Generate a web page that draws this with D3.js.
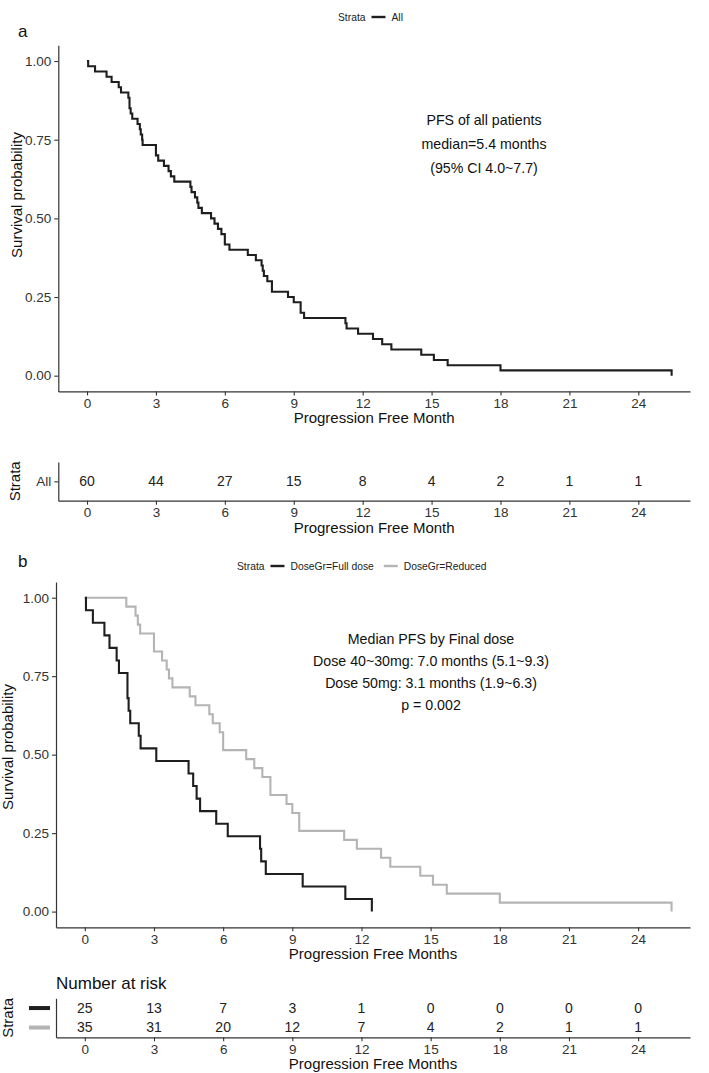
<!DOCTYPE html>
<html><head><meta charset="utf-8">
<script src="https://cdn.jsdelivr.net/npm/d3@7"></script>
<style>
body{margin:0;background:#fff}
svg{display:block}
text{font-family:"Liberation Sans", Arial, Helvetica, sans-serif}
.tick text{font-family:"Liberation Sans Narrow","Arial Narrow","Liberation Sans",sans-serif}
</style>
</head><body>
<svg id="c" width="709" height="1073"></svg>
<script>
// ---------------- data ----------------
const monthTicks = [0, 3, 6, 9, 12, 15, 18, 21, 24];
const survTicks = [0, 0.25, 0.5, 0.75, 1];
// event (progression) times in months
const fullDoseTimes = [0.05, 0.35, 0.85, 1.07, 1.38, 1.48, 1.85, 1.85, 1.9, 1.97, 2.34, 2.42, 3.1,
  4.5, 4.7, 4.85, 5.0, 5.7, 6.2, 7.6, 7.65, 7.85, 9.45, 11.3, 12.45];
const reducedTimes = [1.8, 2.2, 2.3, 2.4, 3.0, 3.0, 3.35, 3.55, 3.65, 3.8, 4.55, 4.8, 5.4, 5.55, 5.85,
  6.0, 6.0, 7.0, 7.35, 7.7, 8.05, 8.05, 8.75, 9.0, 9.3, 9.3, 11.25, 11.8, 12.85, 13.25, 14.55,
  15.1, 15.7, 18.0, 25.45];
const allRisk = [60, 44, 27, 15, 8, 4, 2, 1, 1];
const fullRisk = [25, 13, 7, 3, 1, 0, 0, 0, 0];
const reducedRisk = [35, 31, 20, 12, 7, 4, 2, 1, 1];
const annotA = ["PFS of all patients", "median=5.4 months", "(95% CI 4.0~7.7)"];
const annotB = ["Median PFS by Final dose", "Dose 40~30mg: 7.0 months (5.1~9.3)",
  "Dose 50mg: 3.1 months (1.9~6.3)", "p = 0.002"];
const strataA = ["All"];
const strataB = ["DoseGr=Full dose", "DoseGr=Reduced"];
const colors = {full: "#1e1e1e", reduced: "#b4b4b4", all: "#1e1e1e"};

// ---------------- helpers ----------------
const svg = d3.select("#c");
svg.append("rect").attr("width", 709).attr("height", 1073).attr("fill", "#fff");

function km(times, n) {
  const s = times.slice().sort((a, b) => a - b);
  const pts = [{t: 0, s: 1}];
  let rem = n, i = 0;
  while (i < s.length) {
    const t = s[i]; let d = 0;
    while (i < s.length && s[i] === t) { d++; i++; }
    rem -= d;
    pts.push({t: t, s: rem / n});
  }
  return pts;
}

function styleAxis(g, fs) {
  g.select(".domain").attr("stroke", "#333").attr("stroke-width", 1.2);
  g.selectAll(".tick line").attr("stroke", "#333").attr("stroke-width", 1.1);
  g.selectAll(".tick text").attr("fill", "#333").style("font-size", fs + "px");
}

function panel(o) {
  const x = d3.scaleLinear().domain([-1.25, 26.25]).range([o.left, 690]);
  const y = d3.scaleLinear().domain([-0.05, 1.05]).range([o.bottom, o.top]);
  const gx = svg.append("g").attr("transform", `translate(0,${o.bottom})`)
    .call(d3.axisBottom(x).tickValues(monthTicks).tickSize(4).tickSizeOuter(0).tickPadding(3));
  styleAxis(gx, 13.5);
  const gy = svg.append("g").attr("transform", `translate(${o.left},0)`)
    .call(d3.axisLeft(y).tickValues(survTicks).tickFormat(d3.format(".2f")).tickSize(4).tickSizeOuter(0).tickPadding(3));
  styleAxis(gy, 13.5);
  const line = d3.line().x(d => x(d.t)).y(d => y(d.s)).curve(d3.curveStepAfter);
  o.curves.forEach(c => {
    svg.append("path").datum(c.pts).attr("d", line).attr("fill", "none")
      .attr("stroke", c.color).attr("stroke-width", 2.1).attr("stroke-linejoin", "miter");
  });
  svg.append("text").attr("x", (o.left + 690) / 2).attr("y", o.bottom + 32).attr("text-anchor", "middle")
    .style("font-size", "15px").attr("fill", "#111").text(o.xTitle);
  svg.append("text").attr("transform", `translate(${o.yTitleX},${o.yTitleY}) rotate(-90)`)
    .attr("text-anchor", "middle").attr("dy", "0.35em").style("font-size", "15px").attr("fill", "#111")
    .text("Survival probability");
  const ann = svg.append("text").attr("text-anchor", "middle").style("font-size", o.annSize + "px").attr("fill", "#111");
  o.annot.forEach((s, i) => ann.append("tspan").attr("x", o.annX).attr("y", o.annY + i * o.annStep).text(s));
  return x;
}

function riskTable(o) {
  const x = d3.scaleLinear().domain([-1.25, 26.25]).range([o.left, 690]);
  const y = d3.scalePoint().domain(o.rows.map(r => r.key)).range([o.top, o.bottom]).padding(0.5);
  const gx = svg.append("g").attr("transform", `translate(0,${o.bottom})`)
    .call(d3.axisBottom(x).tickValues(monthTicks).tickSize(4).tickSizeOuter(0).tickPadding(3));
  styleAxis(gx, 13.5);
  const gy = svg.append("g").attr("transform", `translate(${o.left},0)`)
    .call(d3.axisLeft(y).tickSize(o.showTicks ? 4 : 0).tickSizeOuter(0).tickPadding(3)
      .tickFormat(o.tickLabels ? (d => d) : () => ""));
  styleAxis(gy, 13.5);
  o.rows.forEach(r => {
    svg.append("g").selectAll("text").data(r.values).join("text")
      .attr("x", (d, i) => x(monthTicks[i])).attr("y", y(r.key)).attr("dy", "0.35em")
      .attr("text-anchor", "middle").style("font-size", "14px").attr("fill", "#222").text(d => d);
    if (r.keyColor) {
      svg.append("line").attr("x1", 29).attr("x2", 50).attr("y1", y(r.key)).attr("y2", y(r.key))
        .attr("stroke", r.keyColor).attr("stroke-width", 4);
    }
  });
  svg.append("text").attr("x", (o.left + 690) / 2).attr("y", o.bottom + 32).attr("text-anchor", "middle")
    .style("font-size", "15px").attr("fill", "#111").text(o.xTitle);
  svg.append("text").attr("transform", `translate(${o.strataX},${(o.top + o.bottom) / 2}) rotate(-90)`)
    .attr("text-anchor", "middle").attr("dy", "0.35em").style("font-size", "15px").attr("fill", "#111")
    .text("Strata");
}

function legend(items, cy, startX) {
  const g = svg.append("g");
  let cx = startX;
  const t0 = g.append("text").attr("x", cx).attr("y", cy).attr("dy", "0.35em").style("font-size", "10.3px")
    .attr("fill", "#222").text("Strata");
  cx += t0.node().getComputedTextLength() + 6;
  items.forEach(it => {
    g.append("line").attr("x1", cx).attr("x2", cx + 14).attr("y1", cy).attr("y2", cy)
      .attr("stroke", it.color).attr("stroke-width", 2.4);
    cx += 20;
    const t = g.append("text").attr("x", cx).attr("y", cy).attr("dy", "0.35em").style("font-size", "10.3px")
      .attr("fill", "#222").text(it.label);
    cx += t.node().getComputedTextLength() + 10;
  });
}

// ---------------- panel a ----------------
svg.append("text").attr("x", 18).attr("y", 37).style("font-size", "17px").attr("fill", "#111").text("a");
legend([{label: strataA[0], color: colors.all}], 17, 338);
panel({
  left: 58.3, top: 45.3, bottom: 391.4, yTitleX: 16.7, yTitleY: 195,
  xTitle: "Progression Free Month",
  curves: [{pts: km(fullDoseTimes.concat(reducedTimes), fullDoseTimes.length + reducedTimes.length), color: colors.all}],
  annot: annotA, annX: 484, annY: 125, annStep: 24, annSize: 14.2
});
riskTable({
  left: 58.3, top: 462, bottom: 500.7, strataX: 15, xTitle: "Progression Free Month",
  rows: [{key: strataA[0], values: allRisk}], tickLabels: true, showTicks: true
});

// ---------------- panel b ----------------
svg.append("text").attr("x", 18).attr("y", 567).style("font-size", "17px").attr("fill", "#111").text("b");
legend([{label: strataB[0], color: colors.full}, {label: strataB[1], color: colors.reduced}], 566, 237);
panel({
  left: 56, top: 582, bottom: 927.3, yTitleX: 7.5, yTitleY: 747,
  xTitle: "Progression Free Months",
  curves: [
    {pts: km(reducedTimes, reducedTimes.length), color: colors.reduced},
    {pts: km(fullDoseTimes, fullDoseTimes.length), color: colors.full}
  ],
  annot: annotB, annX: 431, annY: 644, annStep: 22, annSize: 14.2
});
svg.append("text").attr("x", 56).attr("y", 989).style("font-size", "17px").attr("fill", "#111").text("Number at risk");
riskTable({
  left: 56, top: 998.3, bottom: 1037.3, strataX: 8, xTitle: "Progression Free Months",
  rows: [
    {key: strataB[0], values: fullRisk, keyColor: colors.full},
    {key: strataB[1], values: reducedRisk, keyColor: colors.reduced}
  ], tickLabels: false, showTicks: false
});
</script>
</body></html>
